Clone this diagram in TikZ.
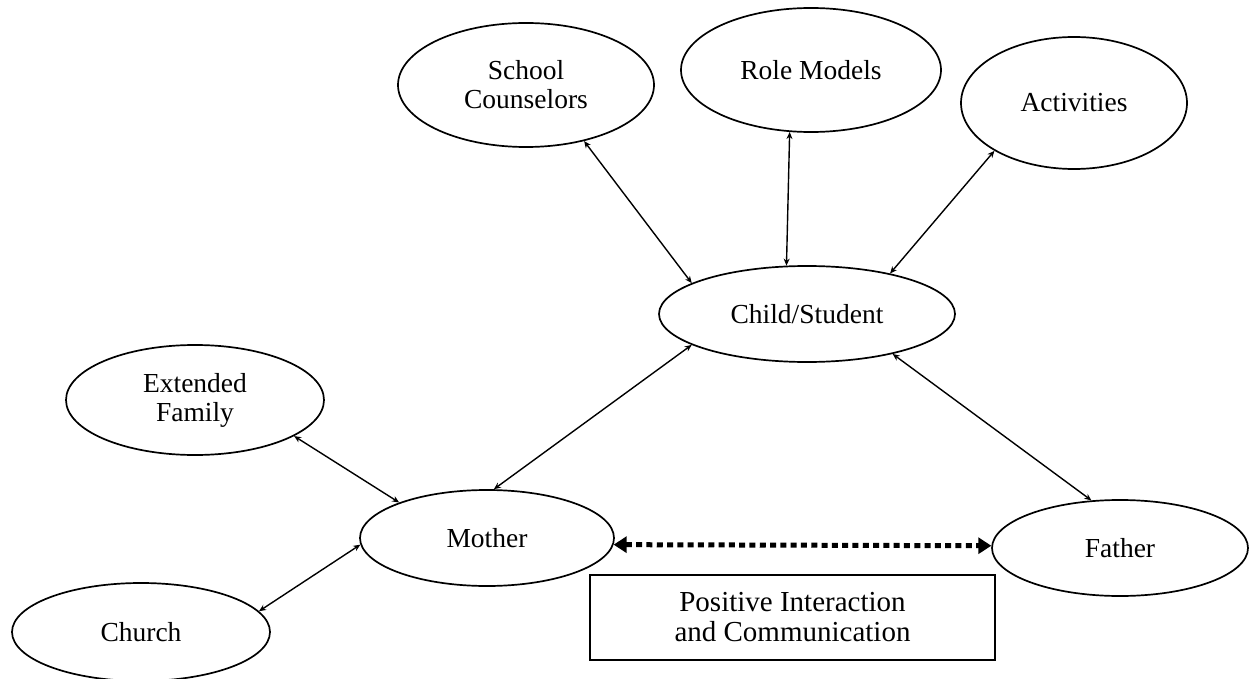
\documentclass[tikz,border=0pt]{standalone}
\usepackage{fontspec}
\setmainfont{Liberation Serif}
\usetikzlibrary{shapes.geometric,arrows.meta}
\begin{document}
\begin{tikzpicture}[x=1pt,y=-1pt,
  oval/.style={draw,ellipse,line width=1.7pt,inner sep=0pt,align=center,
    font=\fontsize{27.5}{29}\selectfont},
  link/.style={line width=1.4pt,{Stealth[length=7pt,width=6pt]}-{Stealth[length=7pt,width=6pt]}},
  dotlink/.style={line width=5pt,dash pattern=on 6pt off 4.3pt,
    {Triangle[length=13pt,width=16pt]}-{Triangle[length=13pt,width=16pt]}},
  labelbox/.style={draw,rectangle,line width=1.7pt,inner sep=0pt,align=center,
    font=\fontsize{29}{30}\selectfont}]
\useasboundingbox (0,0) rectangle (1250,679);
\node[oval,minimum width=256pt,minimum height=124pt] (sc) at (526,85) {School\\Counselors};
\node[oval,minimum width=260pt,minimum height=124pt] (rm) at (811,70) {Role Models};
\node[oval,minimum width=226pt,minimum height=132pt] (act) at (1074,103) {Activities};
\node[oval,minimum width=296pt,minimum height=96pt] (child) at (807,314) {Child/Student};
\node[oval,minimum width=258pt,minimum height=110pt] (ef) at (195,400) {Extended\\Family};
\node[oval,minimum width=254pt,minimum height=96pt] (mother) at (487,538) {Mother};
\node[oval,minimum width=258pt,minimum height=98pt] (church) at (141,632) {Church};
\node[oval,minimum width=256pt,minimum height=96pt] (father) at (1120,548) {Father};
\node[labelbox,minimum width=405pt,minimum height=85pt] (box) at (792.5,617.5) {Positive Interaction\\and Communication};
\draw[link] (sc.316) -- (child.165.3);
\draw[link] (rm.251.3) -- (child.113.2);
\draw[link] (act.211.9) -- (child.26.3);
\draw[link] (child.195.9) -- (mother.82.5);
\draw[link] (child.335.7) -- (father.121.9);
\draw[link] (ef.340.2) -- (mother.158.4);
\draw[link] (church.10) -- (mother.183.2);
\draw[dotlink] (mother.-3) -- (father.179);
\end{tikzpicture}
\end{document}
